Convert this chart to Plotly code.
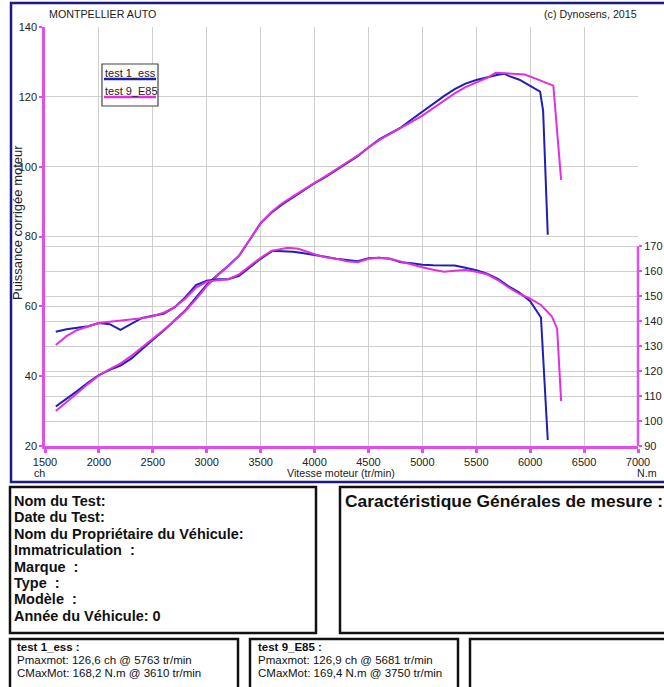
import plotly.graph_objects as go

W, H = 664, 687

# ---------------- data ----------------
rpm_p1 = [1600, 1700, 1800, 1900, 2000, 2100, 2200, 2300, 2400, 2500, 2600, 2700, 2800, 2900,
          3000, 3100, 3200, 3300, 3400, 3500, 3600, 3700, 3800, 3900, 4000, 4100, 4200, 4300,
          4400, 4500, 4600, 4700, 4800, 4900, 5000, 5100, 5200, 5300, 5400, 5500, 5600, 5700,
          5763, 5800, 5900, 6000, 6092, 6120, 6163]
pow_1 = [31.3, 33.5, 35.8, 38.2, 40.3, 41.8, 43.0, 45.0, 47.8, 50.4, 53.0, 55.8, 58.8, 62.5,
         66.2, 69.0, 71.6, 74.5, 79.0, 83.8, 86.8, 89.2, 91.2, 93.3, 95.3, 97.0, 99.0, 101.0,
         103.0, 105.5, 107.8, 109.5, 111.2, 113.5, 115.8, 118.0, 120.2, 122.2, 123.8, 124.8, 125.6, 126.3,
         126.6, 126.0, 124.9, 123.0, 121.5, 116.0, 80.5]

rpm_p9 = [1600, 1700, 1800, 1900, 2000, 2100, 2200, 2300, 2400, 2500, 2600, 2700, 2800, 2900,
          3000, 3100, 3200, 3300, 3400, 3500, 3600, 3700, 3800, 3900, 4000, 4100, 4200, 4300,
          4400, 4500, 4600, 4700, 4800, 4900, 5000, 5100, 5200, 5300, 5400, 5500, 5600, 5681,
          5750, 5850, 5950, 6050, 6150, 6215, 6287]
pow_9 = [30.0, 32.5, 35.2, 37.8, 40.2, 42.0, 43.6, 45.8, 48.2, 50.6, 53.2, 55.8, 58.6, 62.0,
         65.8, 68.8, 71.5, 74.5, 79.0, 83.8, 87.0, 89.5, 91.5, 93.5, 95.4, 97.2, 99.2, 101.2,
         103.2, 105.5, 107.6, 109.4, 111.0, 112.8, 114.6, 116.8, 119.0, 121.0, 122.8, 124.0, 125.4, 126.9,
         126.8, 126.5, 126.4, 125.2, 124.0, 123.2, 96.2]

rpm_t1 = [1600, 1700, 1800, 1900, 2000, 2100, 2200, 2300, 2400, 2500, 2600, 2700, 2800, 2900,
          3000, 3100, 3200, 3300, 3400, 3500, 3610, 3700, 3800, 3900, 4000, 4100, 4200, 4300,
          4400, 4500, 4600, 4700, 4800, 4900, 5000, 5100, 5200, 5300, 5400, 5500, 5600, 5700,
          5800, 5900, 6000, 6050, 6100, 6163]
trq_1 = [135.8, 136.8, 137.4, 138.0, 139.3, 138.8, 136.5, 138.8, 141.3, 142.2, 143.0, 145.5, 149.5, 154.5,
         156.2, 156.8, 156.8, 158.2, 161.5, 165.0, 168.2, 168.0, 167.8, 167.2, 166.6, 165.8, 165.0, 164.4,
         164.0, 165.2, 165.4, 165.0, 163.6, 163.2, 162.6, 162.4, 162.5, 162.3, 161.4, 160.4, 159.0, 157.0,
         154.0, 151.5, 148.0, 145.0, 141.5, 92.4]

rpm_t9 = [1600, 1700, 1800, 1900, 2000, 2100, 2200, 2300, 2400, 2500, 2600, 2700, 2800, 2900,
          3000, 3100, 3200, 3300, 3400, 3500, 3600, 3750, 3850, 3950, 4000, 4100, 4200, 4300,
          4400, 4500, 4600, 4700, 4800, 4900, 5000, 5100, 5200, 5300, 5400, 5500, 5600, 5700,
          5800, 5900, 6000, 6100, 6200, 6250, 6287]
trq_9 = [130.5, 134.0, 136.5, 138.0, 139.3, 139.8, 140.2, 140.6, 141.2, 142.0, 143.4, 145.5, 149.0, 153.5,
         155.8, 156.4, 156.8, 158.8, 162.0, 165.4, 168.2, 169.4, 169.0, 167.5, 166.8, 165.6, 165.0, 164.0,
         163.6, 165.0, 165.4, 165.0, 163.8, 162.8, 161.6, 160.6, 159.8, 160.2, 160.5, 159.8, 158.8, 156.5,
         153.5, 151.0, 149.0, 146.5, 142.0, 137.0, 108.0]

x_ticks = list(range(1500, 7001, 500))
y_ticks = list(range(20, 141, 20))
y2_ticks = list(range(90, 171, 10))
series_names = ["test 1_ess", "test 9_E85"]

BLUE = "#1f1fb4"
MAG = "#e030e0"
AXM = "#e050e8"
GRID = "#cfcfcf"
FONT = "Liberation Sans, Arial, sans-serif"


def px(x):
    return x / W


def py(y):
    return 1 - y / H


fig = go.Figure()
fig.add_trace(go.Scatter(x=rpm_p1, y=pow_1, mode="lines", line=dict(color=BLUE, width=2), name=series_names[0]))
fig.add_trace(go.Scatter(x=rpm_p9, y=pow_9, mode="lines", line=dict(color=MAG, width=2), name=series_names[1]))
fig.add_trace(go.Scatter(x=rpm_t1, y=trq_1, mode="lines", line=dict(color=BLUE, width=2), yaxis="y2", name=series_names[0]))
fig.add_trace(go.Scatter(x=rpm_t9, y=trq_9, mode="lines", line=dict(color=MAG, width=2), yaxis="y2", name=series_names[1]))

tickfont = dict(family=FONT, size=11, color="#222")

fig.update_layout(
    width=W, height=H, autosize=False,
    margin=dict(l=0, r=0, t=0, b=0, pad=0, autoexpand=False),
    paper_bgcolor="white", plot_bgcolor="white",
    showlegend=False,
    font=dict(family=FONT, size=11, color="#222"),
    xaxis=dict(range=[1500, 7000], domain=[px(45), px(638)], tickvals=x_ticks, automargin=False,
               showgrid=True, gridcolor=GRID, gridwidth=1, zeroline=False,
               showline=True, linecolor=AXM, linewidth=2.5,
               ticks="outside", ticklen=4, tickwidth=2.5, tickcolor=AXM, tickfont=tickfont),
    yaxis=dict(range=[20, 140], domain=[py(446), py(27)], tickvals=y_ticks, automargin=False,
               showgrid=True, gridcolor=GRID, gridwidth=1, zeroline=False,
               showline=True, linecolor=AXM, linewidth=2.5,
               ticks="outside", ticklen=3, tickwidth=2, tickcolor=AXM, tickfont=tickfont),
    yaxis2=dict(range=[90, 90 + 419.7 / 2.5], overlaying="y", side="right", tickvals=y2_ticks,
                automargin=False,
                showgrid=True, gridcolor=GRID, gridwidth=1, zeroline=False, showline=False,
                ticks="outside", ticklen=3, tickwidth=2, tickcolor=AXM, tickfont=tickfont),
)

shapes = []
# right axis line (90..170)
shapes.append(dict(type="line", xref="paper", yref="y2", x0=px(638), x1=px(638), y0=90, y1=170,
                   line=dict(color=AXM, width=2.5)))
# outer blue frame
shapes.append(dict(type="rect", xref="paper", yref="paper", x0=px(11), x1=px(700), y0=py(482), y1=py(3),
                   line=dict(color="#1a1a8a", width=2.5)))
# legend box
shapes.append(dict(type="rect", xref="paper", yref="paper", x0=px(102), x1=px(158), y0=py(106), y1=py(64),
                   line=dict(color="#444", width=1.2), fillcolor="white", layer="above"))
shapes.append(dict(type="line", xref="paper", yref="paper", x0=px(104), x1=px(156), y0=py(79), y1=py(79),
                   line=dict(color=BLUE, width=2.5), layer="above"))
shapes.append(dict(type="line", xref="paper", yref="paper", x0=px(104), x1=px(156), y0=py(97), y1=py(97),
                   line=dict(color=MAG, width=2.5), layer="above"))
# info boxes
for (x0, y0, x1, y1) in [(10, 487, 316, 633), (340, 487, 700, 633), (10, 639, 238, 700),
                         (250, 639, 458, 700), (470, 639, 700, 700)]:
    shapes.append(dict(type="rect", xref="paper", yref="paper", x0=px(x0), x1=px(x1), y0=py(y1), y1=py(y0),
                       line=dict(color="#111", width=2.5)))
fig.update_layout(shapes=shapes)

ann = []


def text(x, y, s, size=11, xanchor="left", bold=False, color="#222", angle=0):
    if bold:
        s = "<b>" + s + "</b>"
    ann.append(dict(x=px(x), y=py(y), xref="paper", yref="paper", text=s, showarrow=False,
                    xanchor=xanchor, yanchor="middle", textangle=angle,
                    font=dict(family=FONT, size=size, color=color)))


text(47, 14, "MONTPELLIER AUTO", size=10.7)
text(639, 14, "(c) Dynosens, 2015", size=10.7, xanchor="right")
text(103, 73, series_names[0], size=11)
text(103, 91, series_names[1], size=11)
text(17, 223, "Puissance corrigée moteur", size=13, xanchor="center", angle=-90)
text(39, 473, "ch", size=10.7, xanchor="center")
text(341, 473, "Vitesse moteur (tr/min)", size=10.7, xanchor="center")
text(659, 473, "N.m", size=10.7, xanchor="right")

lines1 = ["Nom du Test:", "Date du Test:", "Nom du Propriétaire du Véhicule:", "Immatriculation  :",
          "Marque  :", "Type  :", "Modèle  :", "Année du Véhicule: 0"]
for i, s in enumerate(lines1):
    text(12, 501 + i * 16.4, s, size=14.5, bold=True, color="#111")
text(343, 501, "Caractéristique Générales de mesure :", size=17.4, bold=True, color="#111")

text(15, 647, "test 1_ess :", size=11.5, bold=True, color="#111")
text(15, 660, "Pmaxmot: 126,6 ch @ 5763 tr/min", size=11.5, color="#111")
text(15, 673, "CMaxMot: 168,2 N.m @ 3610 tr/min", size=11.5, color="#111")
text(256, 647, "test 9_E85 :", size=11.5, bold=True, color="#111")
text(256, 660, "Pmaxmot: 126,9 ch @ 5681 tr/min", size=11.5, color="#111")
text(256, 673, "CMaxMot: 169,4 N.m @ 3750 tr/min", size=11.5, color="#111")

fig.update_layout(annotations=ann)
fig.write_html(
    "out.html",
    config={"displayModeBar": False},
    post_script="document.body.style.margin='0';document.body.style.overflow='hidden';",
)
